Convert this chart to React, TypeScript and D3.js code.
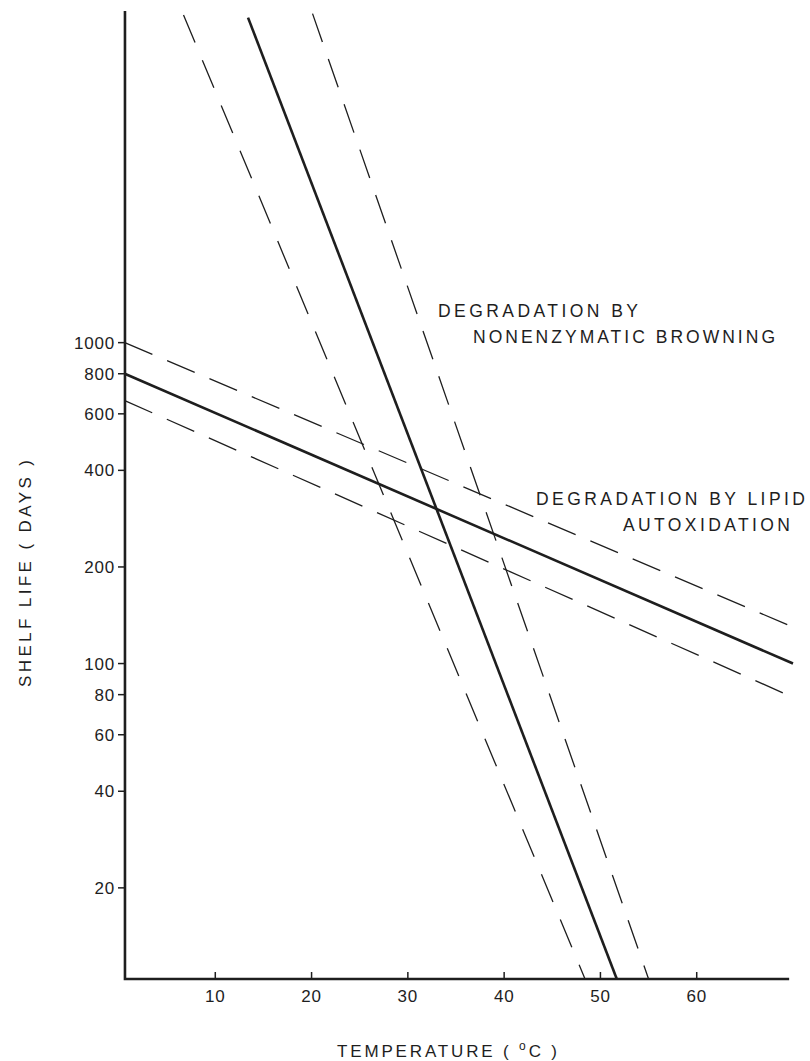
import React from "react";
import * as d3 from "d3";

const xTicks = [10, 20, 30, 40, 50, 60];
const yTicks = [1000, 800, 600, 400, 200, 100, 80, 60, 40, 20];

// Lipid autoxidation (solid = estimate, dashed = bounds)
const lipidUpperT = [0.6, 70.5];
const lipidUpperV = [1000, 128];
const lipidMidT = [0.6, 70];
const lipidMidV = [800, 100];
const lipidLowerT = [0.6, 70.2];
const lipidLowerV = [660, 78];

// Nonenzymatic browning
const brownLeftT = [6.7, 48.4];
const brownLeftV = [10500, 10.4];
const brownMidT = [13.4, 51.7];
const brownMidV = [10300, 10.4];
const brownRightT = [20.1, 55.0];
const brownRightV = [10600, 10.4];

const W = 810;
const H = 1061;
const xMin = 0.62;
const xMax = 69.6;
const yMin = 10.4;
const yMax = 10800;

export default function App() {
  const x = d3.scaleLinear().domain([0, 70]).range([119, 793]);
  const y = d3.scaleLog().domain([yMin, yMax]).range([979, 11]);
  const line = d3
    .line<[number, number]>()
    .x((d) => x(d[0]))
    .y((d) => y(d[1]));
  const mk = (t: number[], v: number[]) => line(t.map((tt, i) => [tt, v[i]] as [number, number])) || "";

  const ink = "#1e1e1e";
  const font = "'Liberation Sans', Arial, sans-serif";
  const x0 = x(xMin);
  const yb = y(yMin);

  const series = [
    { t: lipidUpperT, v: lipidUpperV, dash: "30 16", w: 1.3 },
    { t: lipidMidT, v: lipidMidV, dash: null, w: 2.6 },
    { t: lipidLowerT, v: lipidLowerV, dash: "30 16", w: 1.3 },
    { t: brownLeftT, v: brownLeftV, dash: "30 19", w: 1.3 },
    { t: brownMidT, v: brownMidV, dash: null, w: 2.6 },
    { t: brownRightT, v: brownRightV, dash: "30 18", w: 1.3 },
  ];

  return (
    <svg
      width={W}
      height={H}
      style={{ position: "absolute", left: 0, top: 0, background: "#fff" }}
      fontFamily={font}
    >
      <rect width={W} height={H} fill="#fff" />
      {series.map((s, i) => (
        <path
          key={i}
          d={mk(s.t, s.v)}
          fill="none"
          stroke={ink}
          strokeWidth={s.w}
          strokeDasharray={s.dash || undefined}
          strokeLinecap="butt"
        />
      ))}
      {/* axes */}
      <path
        d={`M${x0},${y(yMax)}L${x0},${yb}L${x(xMax)},${yb}`}
        fill="none"
        stroke={ink}
        strokeWidth={2.6}
      />
      {yTicks.map((t) => (
        <g key={t}>
          <line x1={x0 - 7} x2={x0} y1={y(t)} y2={y(t)} stroke={ink} strokeWidth={1.5} />
          <text
            x={x0 - 10}
            y={y(t)}
            dy="0.36em"
            textAnchor="end"
            fontSize={17}
            letterSpacing={0.8}
            fill={ink}
          >
            {t}
          </text>
        </g>
      ))}
      {xTicks.map((t) => (
        <g key={t}>
          <line x1={x(t)} x2={x(t)} y1={yb} y2={yb - 7} stroke={ink} strokeWidth={1.5} />
          <text x={x(t)} y={1002} textAnchor="middle" fontSize={17} letterSpacing={0.8} fill={ink}>
            {t}
          </text>
        </g>
      ))}
      {/* axis titles */}
      <text x={337} y={1057} fontSize={17} fill={ink} textLength={220} lengthAdjust="spacing">
        TEMPERATURE ( <tspan dy={-7} fontSize={12}>o</tspan>
        <tspan dy={7}>C )</tspan>
      </text>
      <text
        transform="translate(31,687) rotate(-90)"
        x={0}
        y={0}
        fontSize={17}
        fill={ink}
        textLength={227}
        lengthAdjust="spacing"
      >
        SHELF LIFE ( DAYS )
      </text>
      {/* annotations */}
      <text x={438} y={317} fontSize={17.5} fill={ink} textLength={200} lengthAdjust="spacing">
        DEGRADATION BY
      </text>
      <text x={473} y={343} fontSize={17.5} fill={ink} textLength={302} lengthAdjust="spacing">
        NONENZYMATIC BROWNING
      </text>
      <text x={536} y={505} fontSize={17.5} fill={ink} textLength={269} lengthAdjust="spacing">
        DEGRADATION BY LIPID
      </text>
      <text x={623} y={531} fontSize={17.5} fill={ink} textLength={167} lengthAdjust="spacing">
        AUTOXIDATION
      </text>
    </svg>
  );
}
